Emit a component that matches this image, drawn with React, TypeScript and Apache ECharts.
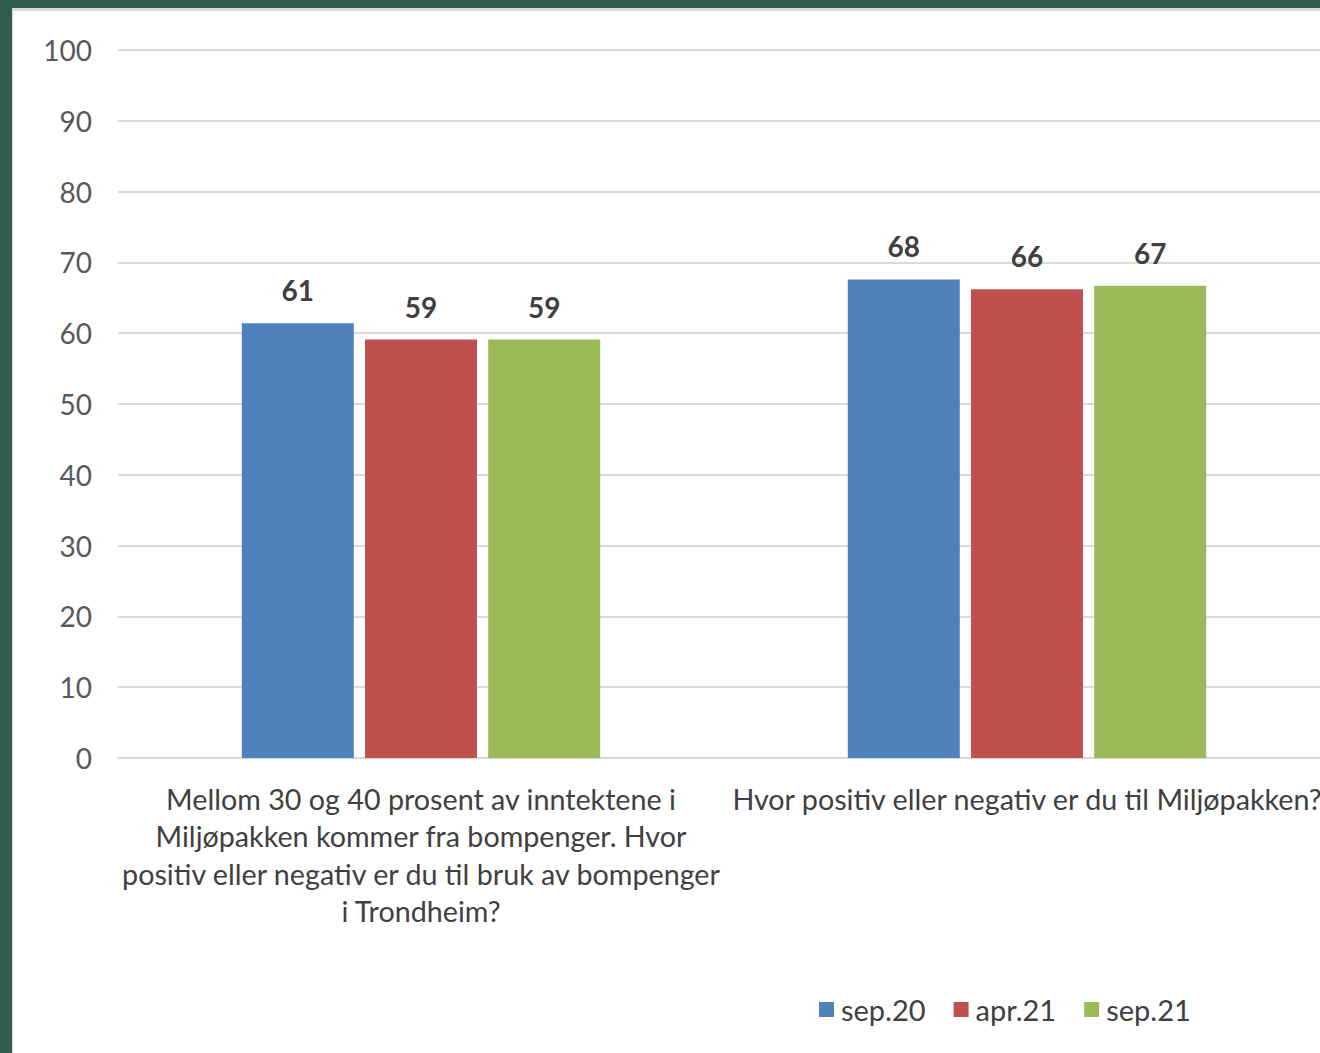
import React, { useEffect, useRef } from "react";
import * as echarts from "echarts";

const categories = [
  "Mellom 30 og 40 prosent av inntektene i\nMiljøpakken kommer fra bompenger. Hvor\npositiv eller negativ er du til bruk av bompenger\ni Trondheim?",
  "Hvor positiv eller negativ er du til Miljøpakken?",
];
const seriesNames = ["sep.20", "apr.21", "sep.21"];
const sep20 = [61.4, 67.6];
const apr21 = [59.1, 66.2];
const sep21 = [59.1, 66.7];
const colors = ["#4f81bd", "#c0504d", "#9bbb59"];
const FONT = "Lato, 'Open Sans', sans-serif";

export default function App() {
  const ref = useRef<HTMLDivElement>(null);
  useEffect(() => {
    if (!ref.current) return;
    const chart = echarts.init(ref.current, undefined, { renderer: "svg" });
    const values = [sep20, apr21, sep21];
    chart.setOption({
      animation: false,
      textStyle: { fontFamily: FONT },
      grid: { left: 118, right: 10, top: 50, bottom: 295, containLabel: false },
      legend: {
        left: 814,
        top: 990,
        itemWidth: 15,
        itemHeight: 15,
        itemGap: 28,
        icon: "rect",
        textStyle: { fontSize: 29, color: "#404040", fontFamily: FONT, padding: [0, 0, 0, 2] },
        data: seriesNames,
      },
      xAxis: {
        type: "category",
        data: categories,
        axisLine: { show: true, lineStyle: { color: "#d9d9d9", width: 2 } },
        axisTick: { show: false },
        axisLabel: {
          interval: 0,
          fontSize: 28.7,
          color: "#404040",
          lineHeight: 37.5,
          margin: 22,
          fontFamily: FONT,
        },
      },
      yAxis: {
        type: "value",
        min: 0,
        max: 100,
        interval: 10,
        axisLine: { show: false },
        axisTick: { show: false },
        splitLine: { lineStyle: { color: "#d9d9d9", width: 2 } },
        axisLabel: { fontSize: 28, color: "#595959", margin: 26, fontFamily: FONT },
      },
      series: seriesNames.map((name, i) => ({
        name,
        type: "bar",
        data: values[i],
        barWidth: 112,
        barGap: "10%",
        itemStyle: { color: colors[i] },
        label: {
          show: true,
          position: "top",
          distance: 19,
          fontSize: 28,
          fontWeight: "bold",
          color: "#404040",
          fontFamily: FONT,
          formatter: (p: any) => String(Math.round(p.value)),
        },
      })),
    });
    return () => chart.dispose();
  }, []);
  return (
    <div style={{ position: "fixed", left: 0, top: 0, width: 1320, height: 1053, background: "#2f5f4c", overflow: "hidden" }}>
      <div
        style={{
          position: "absolute",
          left: 12,
          top: 8,
          width: 1320,
          height: 1060,
          background: "#ffffff",
          borderTop: "3px solid #d9d9d9",
          borderLeft: "1px solid #d9d9d9",
        }}
      />
      <div ref={ref} style={{ position: "absolute", left: 0, top: 0, width: 1340, height: 1053 }} />
    </div>
  );
}
